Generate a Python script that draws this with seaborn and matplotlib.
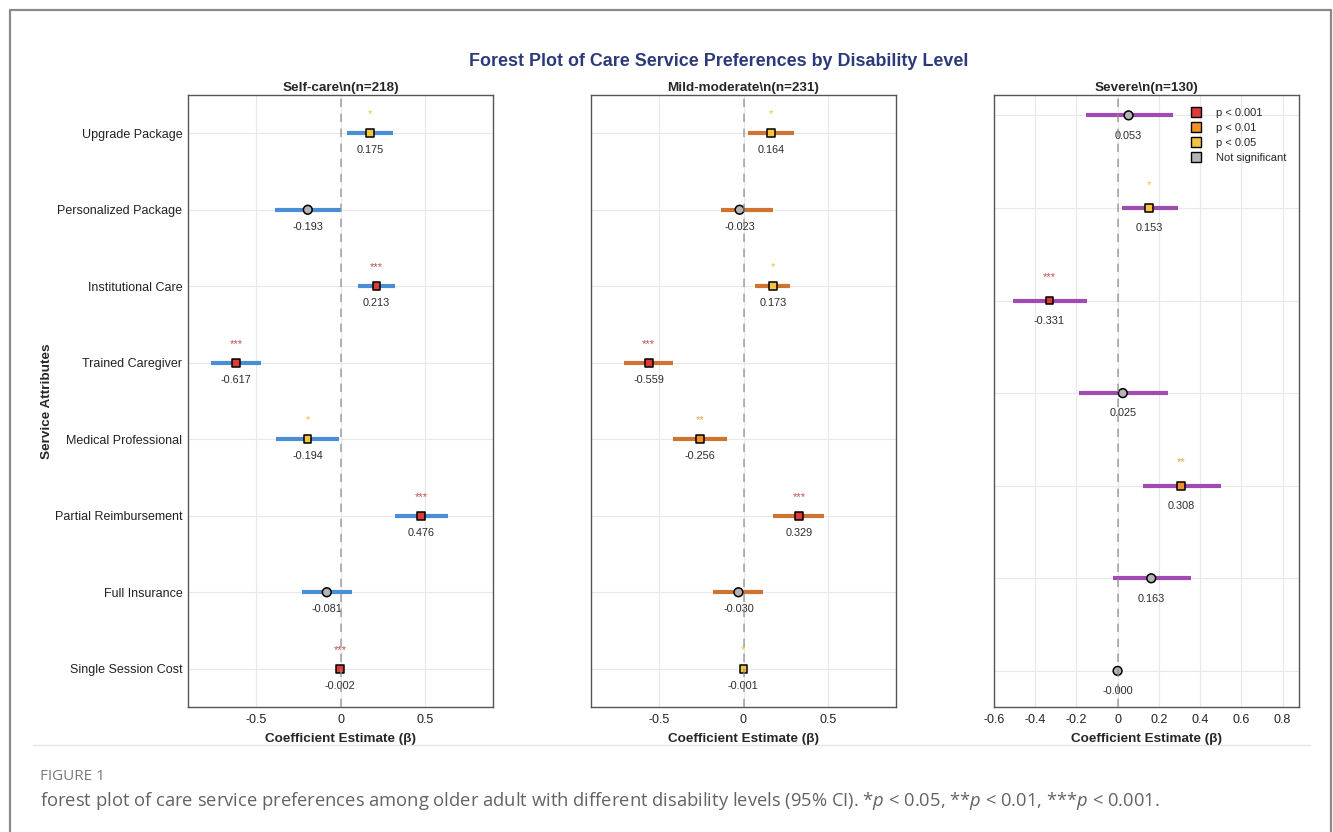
import numpy as np
import pandas as pd
import matplotlib
matplotlib.use("Agg")
import matplotlib.pyplot as plt
from matplotlib.lines import Line2D
import seaborn as sns

# ---- data -------------------------------------------------------------
attributes = ["Upgrade Package", "Personalized Package", "Institutional Care",
              "Trained Caregiver", "Medical Professional", "Partial Reimbursement",
              "Full Insurance", "Single Session Cost"]

selfcare_beta = [0.175, -0.193, 0.213, -0.617, -0.194, 0.476, -0.081, -0.002]
selfcare_lo = [0.040, -0.388, 0.106, -0.765, -0.382, 0.320, -0.229, -0.006]
selfcare_hi = [0.310, 0.002, 0.322, -0.470, -0.006, 0.634, 0.069, 0.002]
selfcare_p = ["p < 0.05", "Not significant", "p < 0.001", "p < 0.001",
              "p < 0.05", "p < 0.001", "Not significant", "p < 0.001"]

mild_beta = [0.164, -0.023, 0.173, -0.559, -0.256, 0.329, -0.030, -0.001]
mild_lo = [0.027, -0.134, 0.066, -0.704, -0.418, 0.176, -0.180, -0.004]
mild_hi = [0.300, 0.176, 0.276, -0.414, -0.096, 0.478, 0.118, 0.002]
mild_p = ["p < 0.05", "Not significant", "p < 0.05", "p < 0.001",
          "p < 0.01", "p < 0.001", "Not significant", "p < 0.05"]

severe_attributes = ["Upgrade Package", "Personalized Package", "Institutional Care",
                     "Trained Caregiver", "Partial Reimbursement", "Full Insurance",
                     "Single Session Cost"]
severe_beta = [0.053, 0.153, -0.331, 0.025, 0.308, 0.163, -0.0003]
severe_lo = [-0.152, 0.023, -0.508, -0.186, 0.123, -0.021, -0.003]
severe_hi = [0.268, 0.293, -0.147, 0.244, 0.503, 0.358, 0.003]
severe_p = ["Not significant", "p < 0.05", "p < 0.001", "Not significant",
            "p < 0.01", "Not significant", "Not significant"]

panel_titles = ["Self-care\\n(n=218)", "Mild-moderate\\n(n=231)", "Severe\\n(n=130)"]
sig_levels = ["p < 0.001", "p < 0.01", "p < 0.05", "Not significant"]

# ---- styling ----------------------------------------------------------
sns.set_theme(style="whitegrid")
plt.rcParams["font.family"] = ["Liberation Sans", "DejaVu Sans"]
plt.rcParams["mathtext.fontset"] = "custom"
plt.rcParams["mathtext.rm"] = "Open Sans"
plt.rcParams["mathtext.it"] = "Open Sans:italic"

fill_colors = {"p < 0.001": "#dc3b36", "p < 0.01": "#f0922c",
               "p < 0.05": "#f4c443", "Not significant": "#b4b4b4"}
marker_shapes = {"p < 0.001": "s", "p < 0.01": "s", "p < 0.05": "s",
                 "Not significant": "o"}
marker_sizes = {"p < 0.001": 30, "p < 0.01": 30, "p < 0.05": 30,
                "Not significant": 40}
star_text = {"p < 0.001": "***", "p < 0.01": "**", "p < 0.05": "*",
             "Not significant": ""}
star_colors = {"p < 0.001": "#c0504d", "p < 0.01": "#e3a04a",
               "p < 0.05": "#f1c232", "Not significant": "#ffffff"}
ci_colors = ["#4a8fd6", "#cf7430", "#a349b4"]

fig = plt.figure(figsize=(13.33, 8.32), dpi=100)
W, H = 1333, 832


def px_axes(left, top, right, bottom):
    return fig.add_axes([left / W, 1 - bottom / H, (right - left) / W, (bottom - top) / H])


axes = [px_axes(188, 95, 493, 707), px_axes(591, 95, 896, 707), px_axes(994, 95, 1299, 707)]

panels = [
    (attributes, selfcare_beta, selfcare_lo, selfcare_hi, selfcare_p, (-0.9, 0.9), (-0.5, 7.5)),
    (attributes, mild_beta, mild_lo, mild_hi, mild_p, (-0.9, 0.9), (-0.5, 7.5)),
    (severe_attributes, severe_beta, severe_lo, severe_hi, severe_p, (-0.6, 0.88), (-0.39, 6.22)),
]

for k, (ax, (names, beta, lo, hi, plev, xlim, ylim)) in enumerate(zip(axes, panels)):
    n = len(names)
    df = pd.DataFrame({"attribute": names, "beta": beta, "lo": lo, "hi": hi,
                       "level": plev, "ypos": np.arange(n)[::-1]})
    ax.hlines(df["ypos"], df["lo"], df["hi"], color=ci_colors[k], lw=3.0, zorder=2)
    sns.scatterplot(data=df, x="beta", y="ypos", hue="level", style="level", size="level",
                    palette=fill_colors, markers=marker_shapes, sizes=marker_sizes,
                    edgecolor="black", linewidth=1.1, legend=False, zorder=3, ax=ax)
    ax.axvline(0, color="#8c8c8c", lw=1.2, ls=(0, (5, 4)), alpha=0.75, zorder=5)

    for _, r in df.iterrows():
        ax.text(r["beta"], r["ypos"] - 0.22, f"{r['beta']:.3f}", ha="center", va="center",
                fontsize=7.8, color="#2b2b2b", zorder=4)
        if star_text[r["level"]]:
            ax.text(r["beta"], r["ypos"] + 0.25, star_text[r["level"]], ha="center",
                    va="center", fontsize=8, color=star_colors[r["level"]], zorder=4)

    ax.set_xlim(*xlim)
    ax.set_ylim(*ylim)
    ax.set_yticks(df["ypos"])
    if k == 0:
        ax.set_yticklabels(df["attribute"], fontsize=9, color="#222222")
        ax.set_ylabel("Service Attributes", fontsize=9.7, fontweight="bold", labelpad=1)
    else:
        ax.set_yticklabels([])
        ax.set_ylabel("")
    if k == 2:
        ax.set_xticks(np.round(np.arange(-0.6, 0.81, 0.2), 1))
        ax.set_xticklabels(["-0.6", "-0.4", "-0.2", "0", "0.2", "0.4", "0.6", "0.8"])
    else:
        ax.set_xticks([-0.5, 0, 0.5])
        ax.set_xticklabels(["-0.5", "0", "0.5"])
    ax.tick_params(axis="x", labelsize=9, colors="#222222", length=0, pad=5)
    ax.tick_params(axis="y", length=2, color="#bbbbbb", width=0.8, pad=2)
    ax.set_xlabel("Coefficient Estimate (\u03b2)", fontsize=9.7, fontweight="bold", labelpad=5)
    ax.set_title(panel_titles[k], fontsize=9.7, fontweight="bold", pad=3)
    ax.grid(True, color="#e8e8e8", lw=0.8)
    ax.set_facecolor("white")
    for sp in ax.spines.values():
        sp.set_color("#555555")
        sp.set_linewidth(1.0)

handles = [Line2D([0], [0], marker="s", ls="none", markersize=7, markerfacecolor=fill_colors[l],
                  markeredgecolor="black", markeredgewidth=1.0, label=l) for l in sig_levels]
axes[2].legend(handles=handles, loc="upper left", bbox_to_anchor=(0.605, 0.99), frameon=False,
               fontsize=8, handletextpad=0.8, labelspacing=0.45, borderaxespad=0.2)

fig.text(719 / W, 1 - 61 / H, "Forest Plot of Care Service Preferences by Disability Level",
         ha="center", va="center", fontsize=12.9, fontweight="bold", color="#2c3a7c")

# figure frame, separator and caption
frame_kw = dict(color="#8a8a8a", lw=1.6, transform=fig.transFigure)
fig.add_artist(Line2D([9.5 / W, 9.5 / W], [0, 1 - 9.5 / H], **frame_kw))
fig.add_artist(Line2D([9.5 / W, 1331 / W], [1 - 9.5 / H, 1 - 9.5 / H], **frame_kw))
fig.add_artist(Line2D([1331 / W, 1331 / W], [0, 1 - 9.5 / H], **frame_kw))
fig.add_artist(Line2D([33 / W, 1310 / W], [1 - 745 / H, 1 - 745 / H], color="#e6e6e6", lw=1.0,
                      transform=fig.transFigure))

fig.text(40 / W, 1 - 776 / H, "FIGURE 1", ha="left", va="center", fontsize=11,
         color="#7a7a7a", family=["Open Sans", "DejaVu Sans"])
fig.text(40 / W, 1 - 801 / H,
         "forest plot of care service preferences among older adult with different disability "
         "levels (95% CI). *$p$ < 0.05, **$p$ < 0.01, ***$p$ < 0.001.",
         ha="left", va="center", fontsize=13.25, color="#636363", family=["Open Sans", "DejaVu Sans"])

fig.savefig("out.png", dpi=100, facecolor="white")
